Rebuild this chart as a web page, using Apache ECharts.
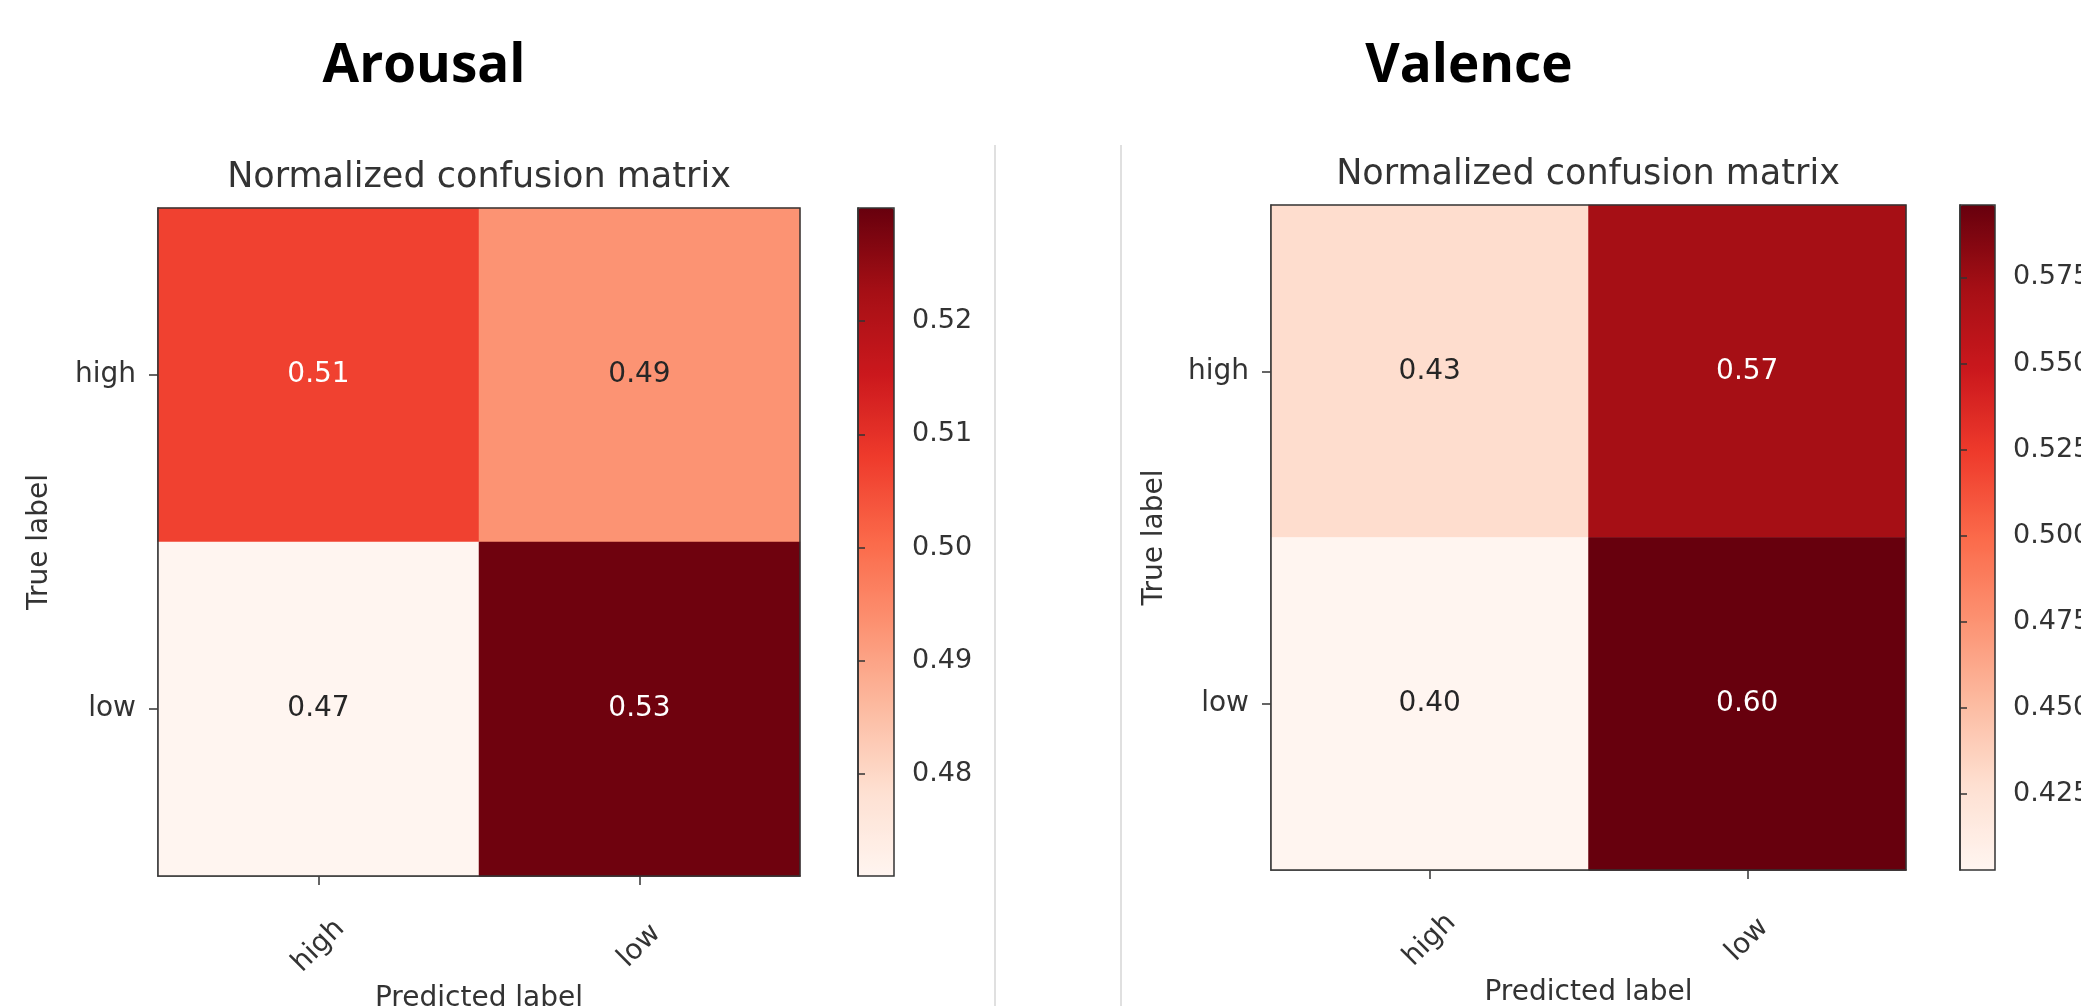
<!DOCTYPE html>
<html>
<head>
<meta charset="utf-8">
<script src="https://cdn.jsdelivr.net/npm/echarts@6/dist/echarts.min.js"></script>
<style>
  html, body { margin: 0; padding: 0; background: #fff; }
  #chart { width: 2081px; height: 1006px; }
</style>
</head>
<body>
<div id="chart"></div>
<script>
// ---- data ----
const labels = ['high', 'low'];                 // predicted (x) and true (y) classes
const arousalHigh = [0.507, 0.493];             // true = high : predicted high, low
const arousalLow  = [0.471, 0.529];             // true = low  : predicted high, low
const valenceHigh = [0.429, 0.571];
const valenceLow  = [0.403, 0.596];
const arousalRange = [0.471, 0.530];            // colorbar extent
const valenceRange = [0.403, 0.596];
const arousalTicks = [0.48, 0.49, 0.50, 0.51, 0.52];
const valenceTicks = [0.425, 0.450, 0.475, 0.500, 0.525, 0.550, 0.575];
const panelTitles = ['Arousal', 'Valence'];
const subTitle = 'Normalized confusion matrix';
const xName = 'Predicted label';
const yName = 'True label';

// ---- style ----
const REDS = ['#fff5f0','#fee0d2','#fcbba1','#fc9272','#fb6a4a','#ef3b2c','#cb181d','#a50f15','#67000d'];
const FONT = '"DejaVu Sans", sans-serif';
const TXT = '#333333';

function cells(rowHigh, rowLow, range) {
  const mid = (range[0] + range[1]) / 2;
  const rows = [rowHigh, rowLow];
  const out = [];
  rows.forEach((row, r) => row.forEach((v, c) => {
    out.push({ value: [c, r, v], label: { color: v > mid ? '#ffffff' : '#262626' } });
  }));
  return out;
}

function heatAxes(gridIndex, nameGapX, nameGapY) {
  const common = {
    gridIndex, type: 'category', data: labels,
    axisLine: { show: true, lineStyle: { color: '#333', width: 1.5 } },
    axisTick: { show: true, alignWithLabel: true, length: 9, lineStyle: { color: '#333', width: 1.5 } },
    splitLine: { show: false },
    nameTextStyle: { fontFamily: FONT, fontSize: 28, color: TXT }
  };
  return {
    x: Object.assign({}, common, {
      position: 'bottom', name: xName, nameLocation: 'middle', nameGap: nameGapX,
      axisLabel: { rotate: 45, align: 'center', verticalAlign: 'middle', margin: 70,
                   fontFamily: FONT, fontSize: 28, color: TXT }
    }),
    y: Object.assign({}, common, {
      inverse: true, name: yName, nameLocation: 'middle', nameRotate: 90, nameGap: nameGapY,
      axisLabel: { margin: 22, fontFamily: FONT, fontSize: 28, color: TXT }
    })
  };
}

function barAxes(gridIndex, range, ticks, digits) {
  return {
    x: { gridIndex, type: 'value', min: 0, max: 1, show: false },
    y: {
      gridIndex, type: 'value', min: range[0], max: range[1], position: 'right', z: 10,
      axisLine: { show: true, lineStyle: { color: '#333', width: 1.5 } },
      axisTick: { show: true, length: 7, customValues: ticks, lineStyle: { color: '#333', width: 1.5 } },
      axisLabel: { show: true, margin: 18, customValues: ticks, fontFamily: FONT, fontSize: 27, color: TXT,
                   formatter: v => Number(v).toFixed(digits) },
      splitLine: { show: false }
    }
  };
}

const hA = heatAxes(0, 108, 104);
const bA = barAxes(1, arousalRange, arousalTicks, 2);
const hV = heatAxes(2, 104, 102);
const bV = barAxes(3, valenceRange, valenceTicks, 3);

const frame = { show: true, borderColor: '#333', borderWidth: 1.5, backgroundColor: 'transparent', z: 5,
                containLabel: false, outerBoundsMode: 'none' };

const option = {
  animation: false,
  backgroundColor: '#ffffff',
  grid: [
    Object.assign({ left: 158, top: 208, width: 642, height: 668 }, frame),
    Object.assign({ left: 858, top: 208, width: 36, height: 668 }, frame),
    Object.assign({ left: 1271, top: 205, width: 635, height: 665 }, frame),
    Object.assign({ left: 1960, top: 205, width: 35, height: 665 }, frame)
  ],
  xAxis: [hA.x, bA.x, hV.x, bV.x],
  yAxis: [hA.y, bA.y, hV.y, bV.y],
  visualMap: [
    { type: 'continuous', seriesIndex: 0, min: arousalRange[0], max: arousalRange[1],
      inRange: { color: REDS }, calculable: false, showLabel: false, text: null, padding: 0,
      orient: 'vertical', left: 858, top: 208, itemWidth: 36, itemHeight: 668, hoverLink: false },
    { type: 'continuous', seriesIndex: 1, min: valenceRange[0], max: valenceRange[1],
      inRange: { color: REDS }, calculable: false, showLabel: false, text: null, padding: 0,
      orient: 'vertical', left: 1960, top: 205, itemWidth: 35, itemHeight: 665, hoverLink: false }
  ],
  series: [
    { type: 'heatmap', xAxisIndex: 0, yAxisIndex: 0, data: cells(arousalHigh, arousalLow, arousalRange),
      label: { show: true, fontFamily: FONT, fontSize: 28, formatter: p => p.value[2].toFixed(2) },
      emphasis: { disabled: true } },
    { type: 'heatmap', xAxisIndex: 2, yAxisIndex: 2, data: cells(valenceHigh, valenceLow, valenceRange),
      label: { show: true, fontFamily: FONT, fontSize: 28, formatter: p => p.value[2].toFixed(2) },
      emphasis: { disabled: true } }
  ],
  graphic: [
    { type: 'text', x: 424, y: 67, style: { text: panelTitles[0], fontFamily: '"Open Sans", sans-serif',
      fontWeight: 'bold', fontSize: 53, fill: '#000', align: 'center', verticalAlign: 'middle' } },
    { type: 'text', x: 1469, y: 67, style: { text: panelTitles[1], fontFamily: '"Open Sans", sans-serif',
      fontWeight: 'bold', fontSize: 53, fill: '#000', align: 'center', verticalAlign: 'middle' } },
    { type: 'text', x: 479, y: 178, style: { text: subTitle, fontFamily: FONT, fontSize: 35, fill: TXT,
      align: 'center', verticalAlign: 'middle' } },
    { type: 'text', x: 1588, y: 175, style: { text: subTitle, fontFamily: FONT, fontSize: 35, fill: TXT,
      align: 'center', verticalAlign: 'middle' } },
    { type: 'line', shape: { x1: 995, y1: 145, x2: 995, y2: 1006 }, style: { stroke: '#d6d6d6', lineWidth: 1.5 } },
    { type: 'line', shape: { x1: 1121, y1: 145, x2: 1121, y2: 1006 }, style: { stroke: '#d6d6d6', lineWidth: 1.5 } }
  ]
};

const chart = echarts.init(document.getElementById('chart'), null, { renderer: 'canvas' });
chart.setOption(option);
</script>
</body>
</html>
